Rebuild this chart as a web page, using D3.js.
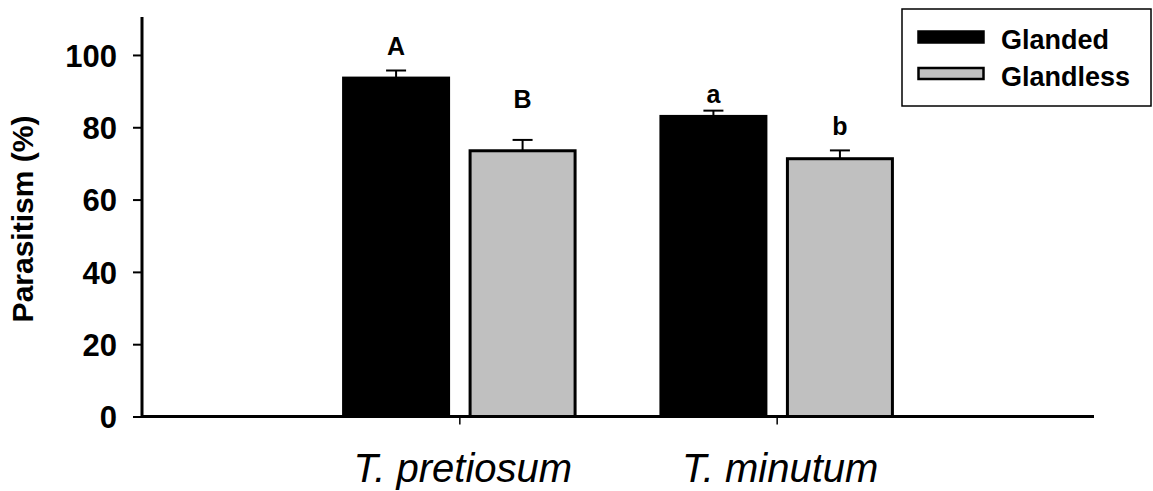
<!DOCTYPE html>
<html>
<head>
<meta charset="utf-8">
<script src="https://cdn.jsdelivr.net/npm/d3@7"></script>
<style>
  html, body { margin: 0; padding: 0; background: #fff; }
  svg { display: block; font-family: "Liberation Sans", Arial, Helvetica, sans-serif; }
</style>
</head>
<body>
<svg id="chart" width="1153" height="491"></svg>
<script>
// Parasitism by two Trichogramma species on glanded vs glandless cotton
const species = ["T. pretiosum", "T. minutum"];
const varieties = ["Glanded", "Glandless"];
const glandedMean = [93.6, 83.0];
const glandlessMean = [73.5, 71.3];
const glandedSE = [2.1, 1.6];
const glandlessSE = [3.0, 2.3];
// significance letters and the height (in % units) they sit at
const glandedLetters = ["A", "a"];
const glandlessLetters = ["B", "b"];
const glandedLetterY = [100, 86.7];
const glandlessLetterY = [85.3, 77.9];
const yTicks = [0, 20, 40, 60, 80, 100];
const colors = { Glanded: "#000000", Glandless: "#c0c0c0" };

const rows = species.flatMap((sp, i) => [
  { sp, v: "Glanded", mean: glandedMean[i], se: glandedSE[i], letter: glandedLetters[i], ly: glandedLetterY[i] },
  { sp, v: "Glandless", mean: glandlessMean[i], se: glandlessSE[i], letter: glandlessLetters[i], ly: glandlessLetterY[i] }
]);

const svg = d3.select("#chart");
const left = 142, right = 1094;

const x = d3.scalePoint().domain(species).range([left, right]).padding(1);
const xInner = d3.scaleBand().domain(varieties).range([-115.75, 115.75]).paddingInner(0.17);
const y = d3.scaleLinear().domain([0, 110]).range([416.5, 18.8]);

// bars
svg.append("g").selectAll("rect").data(rows).join("rect")
  .attr("x", d => x(d.sp) + xInner(d.v))
  .attr("y", d => y(d.mean))
  .attr("width", xInner.bandwidth())
  .attr("height", d => y(0) - y(d.mean))
  .attr("fill", d => colors[d.v])
  .attr("stroke", "#000")
  .attr("stroke-width", 3);

// upper error bars
const eb = svg.append("g").attr("stroke", "#000").attr("stroke-width", 2);
rows.forEach(d => {
  const cx = x(d.sp) + xInner(d.v) + xInner.bandwidth() / 2;
  eb.append("line").attr("x1", cx).attr("x2", cx)
    .attr("y1", y(d.mean)).attr("y2", y(d.mean + d.se));
  eb.append("line").attr("x1", cx - 10).attr("x2", cx + 10)
    .attr("y1", y(d.mean + d.se)).attr("y2", y(d.mean + d.se));
});

// significance letters
svg.append("g").selectAll("text").data(rows).join("text")
  .attr("x", d => x(d.sp) + xInner(d.v) + xInner.bandwidth() / 2)
  .attr("y", d => y(d.ly))
  .attr("text-anchor", "middle")
  .attr("font-weight", "bold")
  .attr("font-size", 25)
  .text(d => d.letter);

// y axis
const yAxis = svg.append("g")
  .attr("transform", `translate(${left},0)`)
  .call(d3.axisLeft(y).tickValues(yTicks).tickSize(9).tickPadding(16).tickSizeOuter(0));
yAxis.select(".domain").remove();
yAxis.append("line").attr("x1", 0).attr("x2", 0).attr("y1", 17).attr("y2", y(0) + 1.5)
  .attr("stroke", "#000").attr("stroke-width", 3);
yAxis.selectAll(".tick line").attr("stroke-width", 2);
yAxis.selectAll(".tick text")
  .attr("font-size", 31).attr("font-weight", "bold").attr("fill", "#000")
  .attr("font-family", "'Liberation Sans', Arial, sans-serif")
  .attr("dy", "0.36em");

// x axis
const xAxis = svg.append("g")
  .attr("transform", `translate(0,${y(0)})`)
  .call(d3.axisBottom(x).tickSize(8).tickSizeOuter(0).tickFormat(""));
xAxis.select(".domain").remove();
xAxis.append("line").attr("x1", left).attr("x2", right).attr("y1", 0).attr("y2", 0)
  .attr("stroke", "#000").attr("stroke-width", 3);
xAxis.selectAll(".tick line").attr("stroke-width", 1.5).attr("y1", 1.5);

// category labels
svg.append("g").selectAll("text").data(species).join("text")
  .attr("x", d => x(d) + 3.5)
  .attr("y", 481.7)
  .attr("text-anchor", "middle")
  .attr("font-style", "italic")
  .attr("font-size", 40)
  .text(d => d);

// y axis title
svg.append("text")
  .attr("transform", "translate(33,219) rotate(-90)")
  .attr("text-anchor", "middle")
  .attr("font-weight", "bold")
  .attr("font-size", 30)
  .text("Parasitism (%)");

// legend
const lg = svg.append("g");
lg.append("rect").attr("x", 902).attr("y", 9).attr("width", 249).attr("height", 97)
  .attr("fill", "#fff").attr("stroke", "#000").attr("stroke-width", 1.5);
const legendRowY = [37, 73.5];
varieties.forEach((v, i) => {
  lg.append("rect").attr("x", 918.5).attr("y", legendRowY[i] - 5.5)
    .attr("width", 65).attr("height", 11)
    .attr("fill", colors[v]).attr("stroke", "#000").attr("stroke-width", 2.5);
  lg.append("text").attr("x", 1001).attr("y", legendRowY[i] + 12)
    .attr("font-weight", "bold").attr("font-size", 27).text(v);
});
</script>
</body>
</html>
